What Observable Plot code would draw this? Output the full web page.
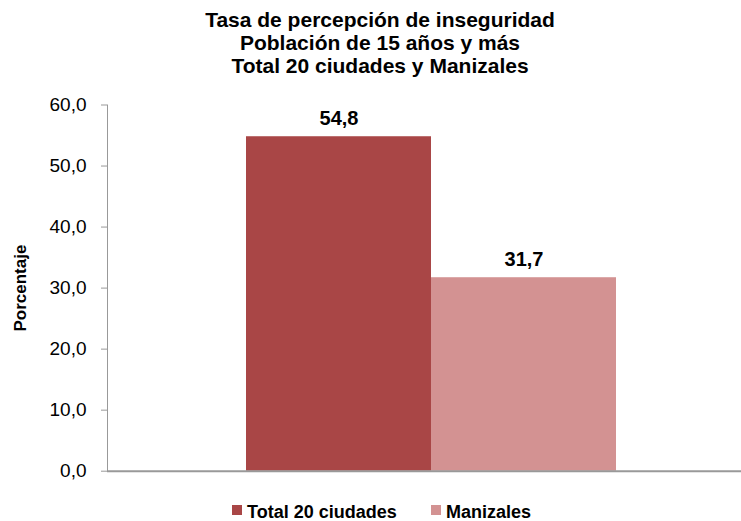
<!DOCTYPE html>
<html>
<head>
<meta charset="utf-8">
<script src="https://cdn.jsdelivr.net/npm/d3@7"></script>
<script src="https://cdn.jsdelivr.net/npm/@observablehq/plot@0.6"></script>
<style>
  html, body { margin: 0; padding: 0; background: #fff; }
  body { width: 741px; height: 521px; overflow: hidden; font-family: "Liberation Sans", Arial, sans-serif; color: #000; }
  #title { padding: 8px 0 0 19px; text-align: center; font-weight: bold; font-size: 21px; line-height: 23px; height: 69px; }
  #legend { position: relative; height: 23px; font-weight: bold; font-size: 18px; line-height: 16px; }
  #legend .item { position: absolute; top: 6px; white-space: nowrap; }
  #legend .sw { display: inline-block; width: 10px; height: 10px; margin: 0 5px 3px 0; vertical-align: baseline; }
  svg { display: block; }
</style>
</head>
<body>
<div id="title"></div>
<div id="chart"></div>
<div id="legend"></div>
<script>
const titleLines = ["Tasa de percepción de inseguridad", "Población de 15 años y más", "Total 20 ciudades y Manizales"];
const categories = ["Total 20 ciudades", "Manizales"];
const values = [54.8, 31.7];
const colors = ["#A94646", "#D39292"];
const yTicks = [0, 10, 20, 30, 40, 50, 60];
const yLabel = "Porcentaje";
const legendLeft = [232, 431];

const fmt = d => d.toFixed(1).replace(".", ",");
const data = categories.map((c, i) => ({cat: c, value: values[i]}));

document.getElementById("title").innerHTML = titleLines.join("<br>");

const chart = Plot.plot({
  width: 741,
  height: 421,
  marginTop: 27.5,
  marginBottom: 27.3,
  marginLeft: 107,
  marginRight: 0,
  style: {fontFamily: '"Liberation Sans", Arial, sans-serif', color: "#000", background: "#fff"},
  x: {domain: categories, range: [245, 616], paddingInner: 0, paddingOuter: 0, axis: null},
  y: {domain: [0, 60]},
  color: {domain: categories, range: colors},
  marks: [
    Plot.barY(data, {x: "cat", y: "value", fill: "cat"}),
    Plot.axisY({ticks: yTicks, tickFormat: fmt, tickSize: 6, tickPadding: 15, fontSize: 19, stroke: "#999", label: null}),
    Plot.frame({anchor: "left", stroke: "#999"}),
    Plot.ruleY([0], {stroke: "#999", strokeWidth: 2}),
    Plot.text(data, {x: "cat", y: "value", text: d => fmt(d.value), dy: -12, lineAnchor: "bottom", fontSize: 20, fontWeight: "bold", fill: "#000"}),
    Plot.text([yLabel], {frameAnchor: "left", textAnchor: "middle", rotate: -90, dx: -87, fontSize: 17, fontWeight: "bold", fill: "#000"})
  ]
});
document.getElementById("chart").appendChild(chart);

const legend = document.getElementById("legend");
categories.forEach((c, i) => {
  const item = document.createElement("span");
  item.className = "item";
  item.style.left = legendLeft[i] + "px";
  const sw = document.createElement("span");
  sw.className = "sw";
  sw.style.background = colors[i];
  item.appendChild(sw);
  item.appendChild(document.createTextNode(c));
  legend.appendChild(item);
});
</script>
</body>
</html>
